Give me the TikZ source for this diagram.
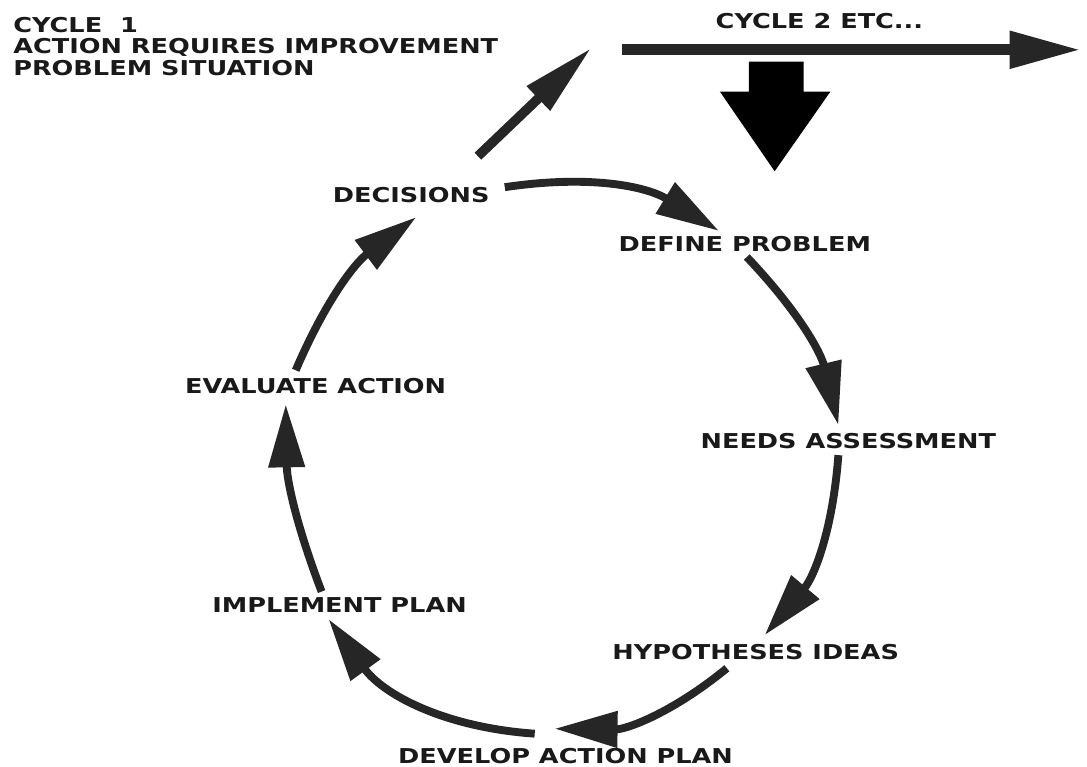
\documentclass[tikz,border=0pt]{standalone}
\usepackage{fontspec}
\newfontfamily\cyclefont{DejaVu Sans Bold}[FakeStretch=1.25]
\usetikzlibrary{arrows.meta,calc}

\begin{document}
\begin{tikzpicture}[x=0.02cm,y=0.02cm]

% styles for the labels and the cycle arrows
\tikzset{
  lbl/.style={font=\cyclefont\fontsize{11.7pt}{12.24pt}\selectfont, inner sep=0pt, text=black!90},
  cyc/.style={draw=black!85, line width=4.5pt, -{Triangle[length=36pt,width=20pt]}},
  onward/.style={draw=black!85, line width=5.5pt, -{Triangle[length=42pt,width=18pt]}},
}

\fill[white] (0,0) rectangle (1087,-770);

% ---------------- heading ----------------
\node[lbl, anchor=north west, align=left] (sit) at (13,-17)
  {CYCLE\ \ 1\\ACTION REQUIRES IMPROVEMENT\\PROBLEM SITUATION};
\node[lbl] (cyc2) at (823,-21) {CYCLE 2 ETC...};

% ---------------- stages round the cycle ----------------
\node[lbl] (dec)   at (413,-196) {DECISIONS};
\node[lbl] (def)   at (748,-245) {DEFINE PROBLEM};
\node[lbl] (needs) at (852,-443) {NEEDS ASSESSMENT};
\node[lbl] (hyp)   at (759,-655) {HYPOTHESES IDEAS};
\node[lbl] (dev)   at (568,-759) {DEVELOP ACTION PLAN};
\node[lbl] (impl)  at (341,-608) {IMPLEMENT PLAN};
\node[lbl] (eval)  at (317,-388) {EVALUATE ACTION};

% cycle arrows
\draw[cyc] ($(dec.east)+(15,8)$)     to[bend left=20] ($(def.north)+(-26,5)$);
\draw[cyc] ($(def.south)+(2,-5)$)    to[bend left=15] ($(needs.north)+(-10,8)$);
\draw[cyc] ($(needs.south)+(-10,-6)$) to[bend left=18] ($(hyp.north)+(9,9)$);
\draw[cyc] ($(hyp.south)+(-29,-8)$)  to[bend left=20] ($(dev.north)+(-11,19)$);
\draw[cyc] ($(dev.north)+(-31,14)$)  to[bend left=25] ($(impl.south)+(-11,-6)$);
\draw[cyc] ($(impl.north)+(-18,6)$)  to[bend left=10] ($(eval.south)+(-30,-10)$);
\draw[cyc] ($(eval.north)+(-20,8)$)  to[bend left=15] ($(dec.south)+(5,-14)$);

% ---------------- way out to the next cycle ----------------
\coordinate (up)  at (594,-48);
\coordinate (nxt) at (625,-50);
\coordinate (fwd) at (1086,-50);
\draw[onward] ($(dec.north east)+(-12,31)$) -- (up);
\draw[onward, line width=6.5pt, -{Triangle[length=41pt,width=20pt]}] (nxt) -- (fwd);

% big arrow back into the cycle
\fill[black] (752,-62) -- (807,-62) -- (807,-92) -- (834,-92) -- (778,-172)
  -- (723,-92) -- (752,-92) -- cycle;

\end{tikzpicture}
\end{document}
